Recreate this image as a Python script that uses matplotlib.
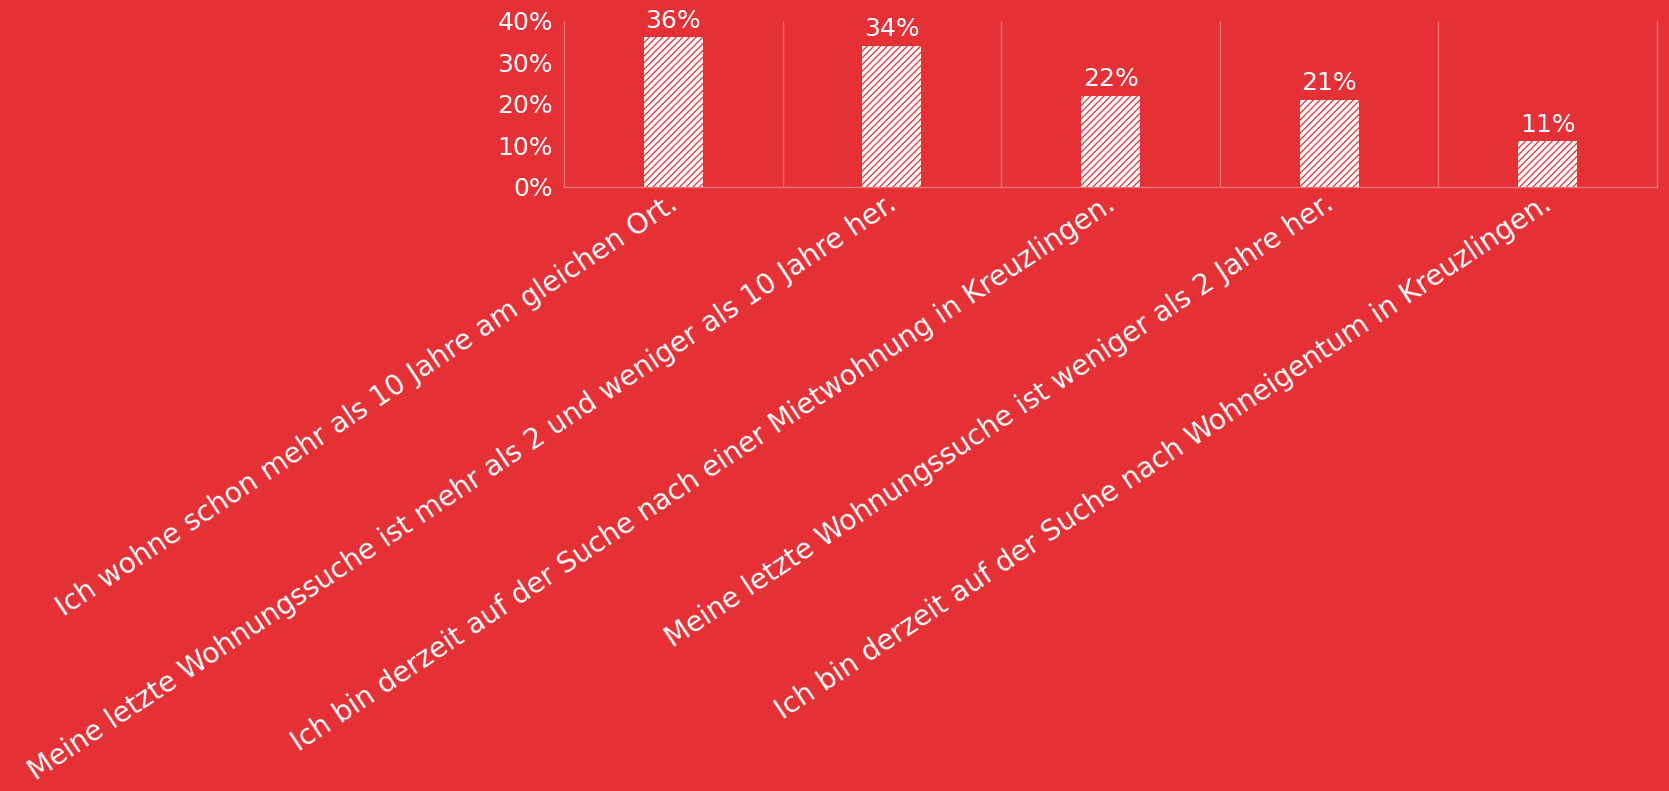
import matplotlib
matplotlib.use("Agg")
import matplotlib.pyplot as plt
import matplotlib.transforms as mtransforms
from matplotlib.ticker import PercentFormatter

categories = [
    "Ich wohne schon mehr als 10 Jahre am gleichen Ort.",
    "Meine letzte Wohnungssuche ist mehr als 2 und weniger als 10 Jahre her.",
    "Ich bin derzeit auf der Suche nach einer Mietwohnung in Kreuzlingen.",
    "Meine letzte Wohnungssuche ist weniger als 2 Jahre her.",
    "Ich bin derzeit auf der Suche nach Wohneigentum in Kreuzlingen.",
]
shares = [0.36, 0.34, 0.22, 0.21, 0.11]
value_labels = ["36%", "34%", "22%", "21%", "11%"]
y_ticks = [0, 0.1, 0.2, 0.3, 0.4]

bg = "#e53036"
line_col = "#ee7175"

plt.rcParams["font.family"] = ["DejaVu Sans"]
plt.rcParams["hatch.color"] = bg
plt.rcParams["hatch.linewidth"] = 0.9

fig = plt.figure(figsize=(16.69, 7.91), dpi=100, facecolor=bg)
ax = fig.add_axes([0.338, 0.7636, 0.6548, 0.2103])
ax.set_facecolor(bg)

x = list(range(len(categories)))
bars = ax.bar(x, shares, width=0.27, color="white", edgecolor=bg,
              linewidth=0, hatch="/////", zorder=3)
ax.bar_label(bars, labels=value_labels, padding=3, color="white", fontsize=18)

ax.set_xlim(-0.5, len(categories) - 0.5)
ax.set_ylim(0, 0.4)
ax.set_yticks(y_ticks)
ax.yaxis.set_major_formatter(PercentFormatter(1.0, decimals=0))
ax.tick_params(axis="y", length=0, pad=8, labelcolor="white", labelsize=18)

# category labels, slanted under each bar
ax.set_xticks(x)
ax.set_xticklabels(categories, rotation=33.6, ha="right", va="baseline",
                   rotation_mode="anchor", fontsize=20.3, color="white")
ax.tick_params(axis="x", length=0, pad=15)
shift = mtransforms.ScaledTranslation(6 / 100, 0, fig.dpi_scale_trans)
for lbl in ax.get_xticklabels():
    lbl.set_transform(lbl.get_transform() + shift)

# thin separators between categories
ax.set_xticks([i + 0.5 for i in x[:-1]], minor=True)
ax.tick_params(axis="x", which="minor", length=0)
ax.grid(which="minor", axis="x", color=line_col, linewidth=1.0)
ax.set_axisbelow(True)

ax.spines["top"].set_visible(False)
for side in ["left", "right", "bottom"]:
    ax.spines[side].set_color(line_col)
    ax.spines[side].set_linewidth(1.0)

fig.savefig("out.png", dpi=100, facecolor=bg)
